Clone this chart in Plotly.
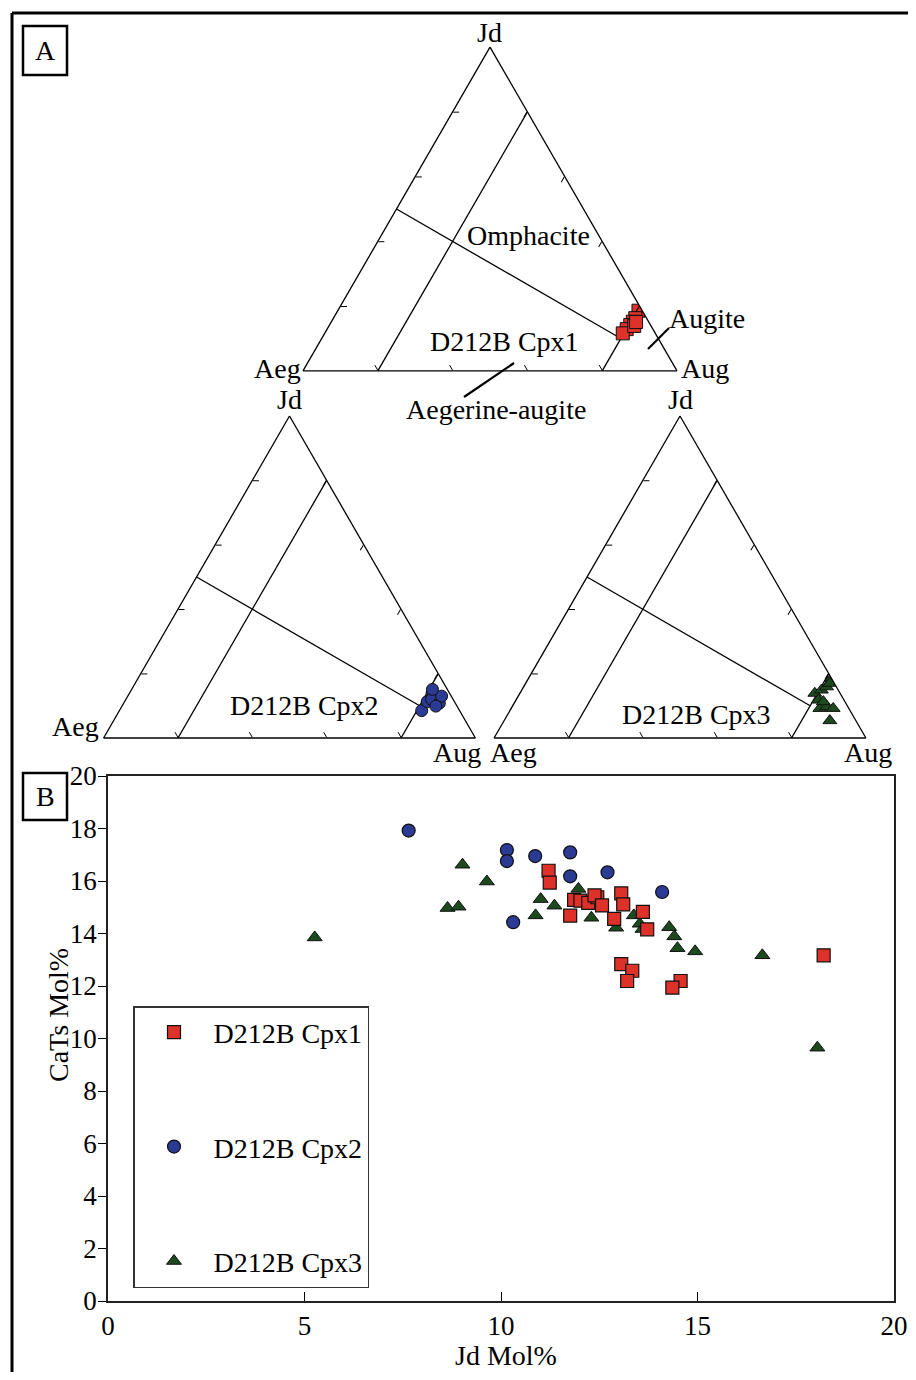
import plotly.graph_objects as go

# The page body adds an 8px margin, so the figure is drawn 8px smaller and
# reference pixel positions are shifted by that offset.
OFF = 8
W, H = 916 - 2 * OFF, 1380 - 2 * OFF
SERIF = "Liberation Serif"

# ---------------- Panel B data (Jd Mol% vs CaTs Mol%) ----------------
cpx1_jd_mol = [11.21, 11.24, 11.76, 11.86, 12.02, 12.22, 12.45, 12.38, 12.57, 13.06, 13.11,
               12.88, 13.61, 13.72, 13.06, 13.34, 13.21, 14.57, 14.36, 18.21]
cpx1_cats_mol = [16.39, 15.94, 14.68, 15.28, 15.25, 15.17, 15.38, 15.45, 15.07, 15.53, 15.11,
                 14.56, 14.82, 14.16, 12.83, 12.58, 12.19, 12.19, 11.94, 13.17]

cpx2_jd_mol = [7.65, 10.15, 10.15, 10.87, 11.76, 11.76, 12.71, 14.10, 10.31]
cpx2_cats_mol = [17.92, 17.18, 16.76, 16.95, 17.09, 16.18, 16.33, 15.58, 14.43]

cpx3_jd_mol = [5.26, 9.02, 9.64, 8.64, 8.92, 11.01, 11.36, 10.88, 11.97, 12.30, 12.93,
               13.38, 13.53, 13.60, 14.28, 14.41, 14.49, 14.94, 16.65, 18.05]
cpx3_cats_mol = [13.85, 16.62, 15.98, 14.97, 15.02, 15.31, 15.06, 14.69, 15.70, 14.60, 14.22,
                 14.69, 14.37, 14.17, 14.24, 13.89, 13.44, 13.32, 13.17, 9.65]

# ---------------- Panel A ternary data (Jd, Aeg, Aug in %) ----------------
cpx1_t_jd = [18.6, 16.3, 15.2, 14.2, 12.9, 11.6, 13.9, 15.1]
cpx1_t_aeg = [1.0, 3.0, 4.2, 5.4, 7.0, 8.7, 4.5, 3.4]
cpx1_t_aug = [80.4, 80.7, 80.6, 80.4, 80.1, 79.7, 81.6, 81.5]

cpx2_t_jd = [8.5, 11.3, 13.9, 12.0, 10.8, 13.0, 15.1, 9.9]
cpx2_t_aeg = [10.2, 7.3, 4.7, 5.8, 4.3, 2.6, 4.0, 5.7]
cpx2_t_aug = [81.3, 81.4, 81.4, 82.2, 84.9, 84.4, 80.9, 84.4]

cpx3_t_jd = [5.4, 18.5, 17.5, 13.9, 11.8, 9.2, 9.7, 9.2, 14.9, 15.9, 17.0, 11.3]
cpx3_t_aeg = [7.0, 0.0, 0.0, 6.8, 6.9, 7.8, 5.7, 4.2, 4.5, 2.6, 1.2, 5.8]
cpx3_t_aug = [87.6, 81.5, 82.5, 79.3, 81.3, 83.0, 84.6, 86.6, 80.6, 81.5, 81.8, 82.9]

# Classification boundaries (Morimoto Q-J type diagram)
quad20_jd, quad20_aeg, quad20_aug = [80, 0], [0, 80], [20, 20]
quad80_jd, quad80_aeg, quad80_aug = [20, 0], [0, 20], [80, 80]
div_jd, div_aeg, div_aug = [50, 10], [50, 10], [0, 80]

series_names = ["D212B Cpx1", "D212B Cpx2", "D212B Cpx3"]
RED, BLUE, GREEN = "#dd3129", "#2b3a92", "#1c4a1e"
EDGE = "#111111"

fig = go.Figure()


def px_x(x):
    return (x - OFF) / W


def px_y(y):
    return 1 - (y - OFF) / H


# ---------------- ternaries ----------------
tern_ids = ["ternary", "ternary2", "ternary3"]
tern_data = [
    (cpx1_t_jd, cpx1_t_aeg, cpx1_t_aug, "square", RED, 13),
    (cpx2_t_jd, cpx2_t_aeg, cpx2_t_aug, "circle", BLUE, 12),
    (cpx3_t_jd, cpx3_t_aeg, cpx3_t_aug, "triangle-up", GREEN, 12),
]
for tid, (tj, ta, tg, sym, col, sz) in zip(tern_ids, tern_data):
    for lj, la, lg in [(quad20_jd, quad20_aeg, quad20_aug),
                       (quad80_jd, quad80_aeg, quad80_aug),
                       (div_jd, div_aeg, div_aug)]:
        fig.add_trace(go.Scatterternary(a=lj, b=la, c=lg, mode="lines",
                                        line=dict(color="black", width=1.3),
                                        subplot=tid, showlegend=False, hoverinfo="skip"))
    fig.add_trace(go.Scatterternary(a=tj, b=ta, c=tg, mode="markers", subplot=tid,
                                    marker=dict(symbol=sym, size=sz, color=col,
                                                line=dict(color=EDGE, width=1)),
                                    showlegend=False))

# ---------------- scatter panel B ----------------
fig.add_trace(go.Scatter(x=cpx3_jd_mol, y=cpx3_cats_mol, mode="markers", name=series_names[2],
                         legendgroup="g3", legendrank=3,
                         marker=dict(symbol="triangle-up", size=13, color=GREEN,
                                     line=dict(color=EDGE, width=1)),
                         xaxis="x", yaxis="y"))
fig.add_trace(go.Scatter(x=cpx2_jd_mol, y=cpx2_cats_mol, mode="markers", name=series_names[1],
                         legendgroup="g2", legendrank=2,
                         marker=dict(symbol="circle", size=13, color=BLUE,
                                     line=dict(color=EDGE, width=1.2)),
                         xaxis="x", yaxis="y"))
fig.add_trace(go.Scatter(x=cpx1_jd_mol, y=cpx1_cats_mol, mode="markers", name=series_names[0],
                         legendgroup="g1", legendrank=1,
                         marker=dict(symbol="square", size=13, color=RED,
                                     line=dict(color=EDGE, width=1.2)),
                         xaxis="x", yaxis="y"))


def tern_axis():
    return dict(title=dict(text=""), showgrid=False, showticklabels=False, ticks="inside",
                ticklen=6, tickwidth=1, tickcolor="black", tickvals=[20, 40, 60, 80],
                linecolor="black", linewidth=1.3, showline=True, min=0)


def tern_layout(x0, x1, y0, y1):
    return dict(domain=dict(x=[px_x(x0), px_x(x1)], y=[px_y(y1), px_y(y0)]),
                sum=100, bgcolor="white",
                aaxis=tern_axis(), baxis=tern_axis(), caxis=tern_axis())


def ann(text, x, y, size=28, xanchor="center", yanchor="middle", angle=0):
    return dict(text=text, x=px_x(x), y=px_y(y), xref="paper", yref="paper", showarrow=False,
                font=dict(family=SERIF, size=size, color="black"),
                xanchor=xanchor, yanchor=yanchor, textangle=angle)


annotations = [
    # panel A top
    ann("Jd", 489, 33), ann("Aeg", 303, 368, xanchor="right"), ann("Aug", 679, 368, xanchor="left"),
    ann("Omphacite", 528, 236), ann("Augite", 667, 318, xanchor="left"),
    ann(series_names[0], 505, 341), ann("Aegerine-augite", 496, 410),
    # bottom-left
    ann("Jd", 289, 400), ann("Aeg", 101, 726, xanchor="right"), ann("Aug", 457, 752),
    ann(series_names[1], 304, 705),
    # bottom-right
    ann("Jd", 680, 400), ann("Aeg", 514, 752), ann("Aug", 868, 752),
    ann(series_names[2], 696, 714),
    # panel labels
    ann("A", 45, 51), ann("B", 45, 796),
    # axis titles
    ann("Jd Mol%", 506, 1355),
    ann("CaTs Mol%", 58, 1015, angle=-90),
]

shapes = [
    dict(type="line", xref="paper", yref="paper", x0=px_x(12), x1=px_x(916), y0=px_y(13), y1=px_y(13),
         line=dict(color="black", width=3)),
    dict(type="line", xref="paper", yref="paper", x0=px_x(12), x1=px_x(12), y0=px_y(13), y1=px_y(1380),
         line=dict(color="black", width=3)),
    dict(type="rect", xref="paper", yref="paper", x0=px_x(23), x1=px_x(67), y0=px_y(75), y1=px_y(26),
         line=dict(color="black", width=2.5)),
    dict(type="rect", xref="paper", yref="paper", x0=px_x(23), x1=px_x(67), y0=px_y(820), y1=px_y(773),
         line=dict(color="black", width=2.5)),
    # leader lines
    dict(type="line", xref="paper", yref="paper", x0=px_x(464), x1=px_x(514), y0=px_y(397), y1=px_y(363),
         line=dict(color="black", width=2.2)),
    dict(type="line", xref="paper", yref="paper", x0=px_x(648), x1=px_x(669), y0=px_y(349), y1=px_y(328),
         line=dict(color="black", width=2.2)),
]

fig.update_layout(
    template="none",
    width=W, height=H,
    margin=dict(l=0, r=0, t=0, b=0, pad=0),
    paper_bgcolor="white", plot_bgcolor="white",
    font=dict(family=SERIF, size=28, color="black"),
    ternary=tern_layout(303, 677, 47, 371),
    ternary2=tern_layout(102, 477, 416, 738),
    ternary3=tern_layout(494, 866, 416, 738),
    xaxis=dict(domain=[px_x(108), px_x(894)], range=[0, 20], tick0=0, dtick=5,
               ticks="inside", ticklen=9, tickwidth=1, tickcolor="black",
               showline=True, linecolor="#222", linewidth=1.5, mirror=True,
               showgrid=False, zeroline=False, automargin=False,
               tickfont=dict(family=SERIF, size=27, color="black"), anchor="y"),
    yaxis=dict(domain=[px_y(1301), px_y(776)], range=[0, 20], tick0=0, dtick=2,
               ticks="outside", ticklen=8, tickwidth=1, tickcolor="black",
               ticklabelstandoff=-4,
               showline=True, linecolor="#222", linewidth=1.5, mirror=True,
               showgrid=False, zeroline=False, automargin=False,
               tickfont=dict(family=SERIF, size=27, color="black"), anchor="x"),
    showlegend=True,
    legend=dict(x=px_x(133), y=px_y(1006), xanchor="left", yanchor="top",
                bordercolor="#333", borderwidth=1.5, bgcolor="white",
                font=dict(family=SERIF, size=28, color="black"),
                tracegroupgap=75, itemwidth=69, itemsizing="trace",
                traceorder="grouped"),
    annotations=annotations,
    shapes=shapes,
)

fig.write_html("out.html")
